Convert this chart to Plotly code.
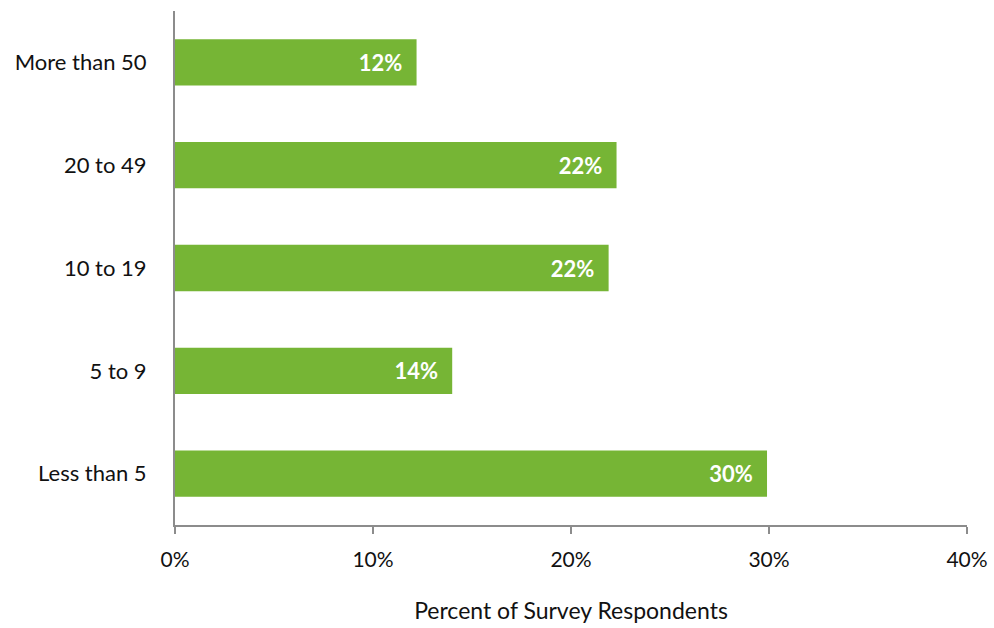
import plotly.graph_objects as go

# Survey: number of employees, share of respondents (%)
categories = ["Less than 5", "5 to 9", "10 to 19", "20 to 49", "More than 50"]
percent = [29.9, 14.0, 21.9, 22.3, 12.2]
tick_values = [0, 10, 20, 30, 40]
tick_labels = ["0%", "10%", "20%", "30%", "40%"]

FONT = "Gill Sans MT, Gill Sans, Lato, sans-serif"
GREEN = "#76B535"
AXIS_GREY = "#8C8C8C"

fig = go.Figure(
    go.Bar(
        x=percent,
        y=categories,
        orientation="h",
        marker=dict(color=GREEN, line=dict(width=0)),
        width=0.45,
        texttemplate="<b>%{x:.0f}%</b>\u00a0\u00a0",
        textposition="inside",
        insidetextanchor="end",
        textfont=dict(family=FONT, size=22, color="white"),
        hoverinfo="skip",
    )
)

fig.update_layout(
    width=994,
    height=628,
    margin=dict(l=175, r=27, t=11, b=103),
    paper_bgcolor="white",
    plot_bgcolor="white",
    showlegend=False,
    font=dict(family=FONT, size=20, color="#111111"),
)

fig.update_xaxes(
    range=[0, 40],
    tickvals=tick_values,
    ticktext=tick_labels,
    automargin=False,
    showgrid=False,
    zeroline=False,
    showline=True,
    linecolor=AXIS_GREY,
    linewidth=2,
    ticks="outside",
    ticklen=7,
    tickwidth=2,
    tickcolor=AXIS_GREY,
    ticklabelstandoff=8,
    tickfont=dict(family=FONT, size=21, color="#111111"),
    title=dict(
        text="Percent of Survey Respondents",
        font=dict(family=FONT, size=23, color="#111111"),
        standoff=33,
    ),
)

fig.update_yaxes(
    categoryorder="array",
    categoryarray=categories,
    range=[-0.5, 4.5],
    automargin=False,
    showgrid=False,
    zeroline=False,
    showline=True,
    linecolor=AXIS_GREY,
    linewidth=2,
    ticks="",
    ticklabelstandoff=22,
    tickfont=dict(family=FONT, size=22, color="#111111"),
)

fig.write_html("out.html")
